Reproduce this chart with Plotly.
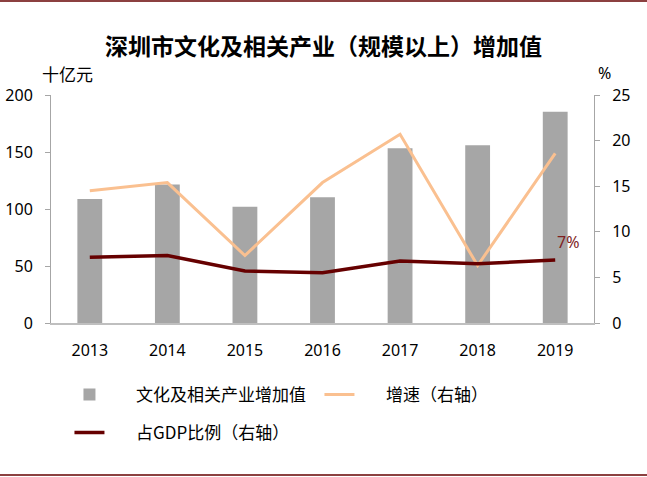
import plotly.graph_objects as go

# data
years = ["2013", "2014", "2015", "2016", "2017", "2018", "2019"]
added_value = [108.8, 121.6, 102.0, 110.2, 153.2, 156.0, 185.4]   # 十亿元
growth = [14.5, 15.4, 7.4, 15.4, 20.7, 6.3, 18.6]                 # %
gdp_share = [7.2, 7.4, 5.7, 5.5, 6.8, 6.5, 6.9]                   # %

left_ticks = [0, 50, 100, 150, 200]
right_ticks = [0, 5, 10, 15, 20, 25]

cjk = "Noto Sans CJK SC"
num = "Noto Sans"
maroon = "#660000"
pad = "&nbsp;" * 7  # push legend text away from the symbol

fig = go.Figure()

fig.add_trace(go.Bar(
    x=years, y=added_value, name=pad + "文化及相关产业增加值",
    marker=dict(color="#A6A6A6", line=dict(width=0)),
    legend="legend"))

fig.add_trace(go.Scatter(
    x=years, y=growth, name=pad + "增速（右轴）", yaxis="y2",
    mode="lines", line=dict(color="#FAC090", width=3),
    legend="legend"))

fig.add_trace(go.Scatter(
    x=years, y=gdp_share, name=pad + "占GDP比例（右轴）", yaxis="y2",
    mode="lines", line=dict(color=maroon, width=3.5),
    legend="legend2"))

# label on the last GDP-share point (category index of 2019)
fig.add_annotation(
    x=len(years) - 1, y=gdp_share[-1], yref="y2", text="7%",
    showarrow=False, xshift=13, yshift=18,
    font=dict(family=num, size=16, color="#7F1F1F"))

# axis unit labels
fig.add_annotation(x=0.03, y=1.096, xref="paper", yref="paper",
                   xanchor="center", yanchor="middle",
                   text="十亿元", showarrow=False,
                   font=dict(family=cjk, size=17, color="#000"))
fig.add_annotation(x=1.02, y=1.096, xref="paper", yref="paper",
                   xanchor="center", yanchor="middle",
                   text="%", showarrow=False,
                   font=dict(family=num, size=16, color="#000"))

# top and bottom frame lines
fig.add_shape(type="line", xref="paper", yref="paper",
              x0=-0.1, x1=1.1, y0=1.412, y1=1.412,
              line=dict(color=maroon, width=1.5))
fig.add_shape(type="line", xref="paper", yref="paper",
              x0=-0.1, x1=1.1, y0=-0.667, y1=-0.667,
              line=dict(color=maroon, width=1.5))

fig.update_layout(
    width=647, height=477,
    margin=dict(l=51, r=53, t=95, b=154, autoexpand=False),
    paper_bgcolor="white", plot_bgcolor="white",
    title=dict(text="<b>深圳市文化及相关产业（规模以上）增加值</b>",
               x=0.5, xanchor="center", y=0.902, yanchor="middle",
               font=dict(family=cjk, size=23, color="#000")),
    bargap=0.68,
    xaxis=dict(type="category", range=[-0.5, len(years) - 0.5],
               showgrid=False, zeroline=False,
               showline=True, linecolor="#BFBFBF", linewidth=1.5,
               ticks="", ticklabelstandoff=12,
               tickfont=dict(family=num, size=16, color="#000")),
    yaxis=dict(range=[0, 200], tickvals=left_ticks, showgrid=False,
               zeroline=False, showline=True, linecolor="#A6A6A6",
               linewidth=1, ticks="outside", ticklen=5, tickcolor="#A6A6A6",
               ticklabelstandoff=9,
               tickfont=dict(family=num, size=16, color="#000")),
    yaxis2=dict(range=[0, 25], tickvals=right_ticks, overlaying="y",
                side="right", showgrid=False, zeroline=False, showline=True,
                linecolor="#A6A6A6", linewidth=1, ticks="outside",
                ticklen=5, tickcolor="#A6A6A6", ticklabelstandoff=9,
                tickfont=dict(family=num, size=16, color="#000")),
    legend=dict(orientation="h", x=0.034, y=-0.316, xanchor="left",
                yanchor="middle", entrywidth=205, entrywidthmode="pixels",
                font=dict(family=cjk, size=17, color="#000"),
                bgcolor="rgba(0,0,0,0)"),
    legend2=dict(orientation="h", x=0.034, y=-0.482, xanchor="left",
                 yanchor="middle",
                 font=dict(family=cjk, size=17, color="#000"),
                 bgcolor="rgba(0,0,0,0)"),
)

fig.write_html("out.html", config={"displayModeBar": False},
               post_script="document.body.style.margin='0';")
